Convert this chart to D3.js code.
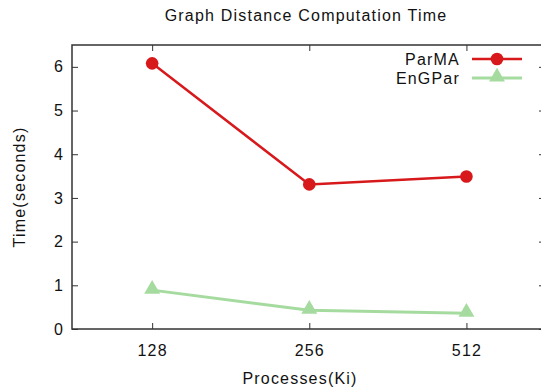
<!DOCTYPE html>
<html>
<head>
<meta charset="utf-8">
<script src="https://cdn.jsdelivr.net/npm/d3@7"></script>
<style>
  body { margin: 0; background: #fff; }
  text { font-family: "Liberation Sans", Arial, sans-serif; fill: #111; font-size: 16px; letter-spacing: 1.2px; }
</style>
</head>
<body>
<div id="chart"></div>
<script>
// Data
const processes = ["128", "256", "512"];
const parma = [6.08, 3.31, 3.49];
const engpar = [0.89, 0.43, 0.36];
const yTicks = [0, 1, 2, 3, 4, 5, 6];

const W = 541, H = 390;
const margin = {top: 45, right: -4, bottom: 61, left: 72};

const svg = d3.select("#chart")
  .append("svg")
  .attr("width", W)
  .attr("height", H);

// Scales
const x = d3.scaleLinear()
  .domain([0.49, 3.5])
  .range([margin.left, W - margin.right]);
const y = d3.scaleLinear()
  .domain([0, 6.5])
  .range([H - margin.bottom, margin.top]);

const tickLen = 6;

// Frame
svg.append("rect")
  .attr("x", margin.left)
  .attr("y", margin.top)
  .attr("width", x.range()[1] - margin.left)
  .attr("height", y(0) - margin.top)
  .attr("fill", "none")
  .attr("stroke", "#333")
  .attr("stroke-width", 1.5);

// Axes (inward ticks, mirrored)
const xIdx = processes.map((d, i) => i + 1);
svg.append("g")
  .attr("transform", `translate(0,${y(0)})`)
  .call(d3.axisBottom(x).tickValues(xIdx).tickFormat(i => processes[i - 1])
    .tickSizeInner(-tickLen).tickSizeOuter(0))
  .call(g => g.select(".domain").remove())
  .call(g => g.selectAll("line").attr("stroke", "#333"))
  .call(g => g.selectAll("text").attr("y", 26.5).attr("dy", null));
svg.append("g")
  .attr("transform", `translate(0,${margin.top})`)
  .call(d3.axisTop(x).tickValues(xIdx).tickFormat("")
    .tickSizeInner(-tickLen).tickSizeOuter(0))
  .call(g => g.select(".domain").remove())
  .call(g => g.selectAll("line").attr("stroke", "#333"));
svg.append("g")
  .attr("transform", `translate(${margin.left},0)`)
  .call(d3.axisLeft(y).tickValues(yTicks).tickFormat(d3.format("d"))
    .tickSizeInner(-tickLen).tickSizeOuter(0))
  .call(g => g.select(".domain").remove())
  .call(g => g.selectAll("line").attr("stroke", "#333"))
  .call(g => g.selectAll("text").attr("x", -8));
svg.append("g")
  .attr("transform", `translate(${x.range()[1]},0)`)
  .call(d3.axisRight(y).tickValues(yTicks).tickFormat("")
    .tickSizeInner(-tickLen).tickSizeOuter(0))
  .call(g => g.select(".domain").remove())
  .call(g => g.selectAll("line").attr("stroke", "#333"));
svg.selectAll("g").attr("font-size", null).attr("font-family", null);

// Labels
svg.append("text")
  .attr("x", 306)
  .attr("y", 21)
  .attr("text-anchor", "middle")
  .text("Graph Distance Computation Time");

svg.append("text")
  .attr("x", 300)
  .attr("y", 384)
  .attr("text-anchor", "middle")
  .text("Processes(Ki)");

svg.append("text")
  .attr("transform", "rotate(-90)")
  .attr("x", -187)
  .attr("y", 25)
  .attr("text-anchor", "middle")
  .text("Time(seconds)");

// Series
const series = [
  {name: "ParMA", values: parma, color: "#d7191c", width: 2.5, marker: "circle"},
  {name: "EnGPar", values: engpar, color: "#a6dba0", width: 3, marker: "triangle"}
];

const line = d3.line()
  .x((d, i) => x(i + 1))
  .y(d => y(d));

const circleSym = d3.symbol().type(d3.symbolCircle).size(125);
const triSym = d3.symbol().type(d3.symbolTriangle).size(110);

series.forEach((s, k) => {
  svg.append("path")
    .datum(s.values)
    .attr("d", line)
    .attr("fill", "none")
    .attr("stroke", s.color)
    .attr("stroke-width", s.width);

  svg.append("g")
    .selectAll("path")
    .data(s.values)
    .join("path")
    .attr("transform", (d, i) => `translate(${x(i + 1)},${y(d) - (s.marker === "triangle" ? 1 : 0)})`)
    .attr("d", s.marker === "circle" ? circleSym : triSym)
    .attr("fill", s.color);

  // Legend
  const ly = 59 + k * 19;
  svg.append("text")
    .attr("x", 460)
    .attr("y", ly)
    .attr("dy", "0.35em")
    .attr("text-anchor", "end")
    .text(s.name);
  svg.append("line")
    .attr("x1", 472).attr("x2", 522)
    .attr("y1", ly).attr("y2", ly)
    .attr("stroke", s.color)
    .attr("stroke-width", s.width);
  svg.append("path")
    .attr("transform", `translate(497,${ly - (s.marker === "triangle" ? 1 : 0)})`)
    .attr("d", s.marker === "circle" ? circleSym : triSym)
    .attr("fill", s.color);
});
</script>
</body>
</html>
